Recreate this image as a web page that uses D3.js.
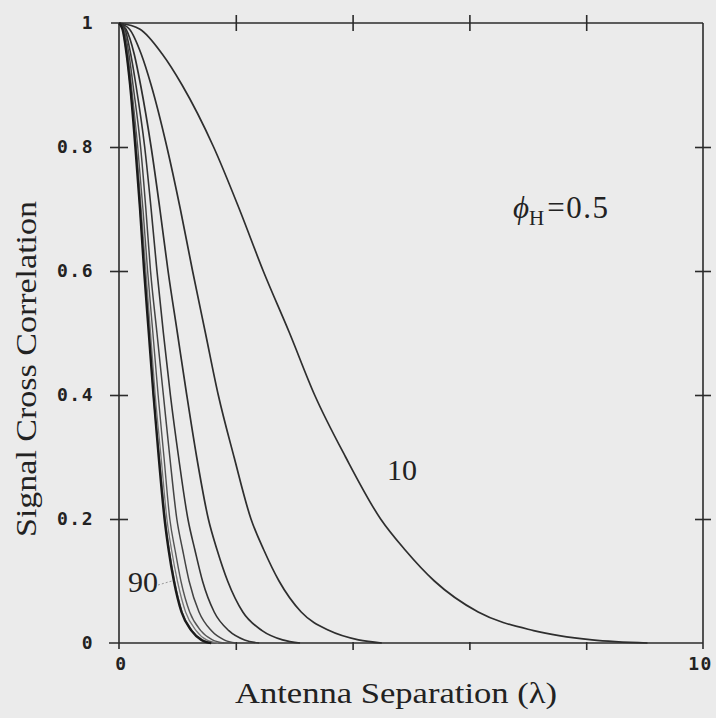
<!DOCTYPE html>
<html>
<head>
<meta charset="utf-8">
<script src="https://cdn.jsdelivr.net/npm/d3@7/dist/d3.min.js"></script>
<style>
  html, body { margin: 0; padding: 0; background: #ebebeb; }
  svg { display: block; }
</style>
</head>
<body>
<svg id="chart" width="716" height="718"></svg>
<script>
// Correlation levels shared by all series (y values)
const correlationLevels = [1, 0.99, 0.95, 0.9, 0.8, 0.7, 0.6, 0.5, 0.4, 0.3, 0.2, 0.15, 0.1, 0.05, 0.02, 0.005, 0];

// Antenna separation (in wavelengths) at which each curve reaches the level above
const sep10 = [0, 0.36, 0.74, 1.08, 1.62, 2.06, 2.47, 2.92, 3.35, 3.88, 4.48, 4.90, 5.40, 6.15, 7.10, 8.10, 9.05];
const sep20 = [0, 0.18, 0.38, 0.55, 0.82, 1.05, 1.26, 1.48, 1.70, 1.97, 2.26, 2.48, 2.74, 3.12, 3.60, 4.10, 4.50];
const sep30 = [0, 0.12, 0.26, 0.37, 0.55, 0.70, 0.84, 1.00, 1.16, 1.33, 1.53, 1.68, 1.86, 2.12, 2.45, 2.80, 3.10];
const sep40 = [0, 0.10, 0.20, 0.29, 0.44, 0.55, 0.65, 0.76, 0.88, 1.02, 1.18, 1.30, 1.43, 1.63, 1.88, 2.15, 2.40];
const sep50 = [0, 0.08, 0.17, 0.24, 0.37, 0.46, 0.54, 0.65, 0.76, 0.87, 0.99, 1.09, 1.20, 1.37, 1.58, 1.80, 2.00];
const sep60 = [0, 0.07, 0.15, 0.21, 0.32, 0.41, 0.49, 0.58, 0.67, 0.77, 0.87, 0.96, 1.06, 1.21, 1.40, 1.60, 1.80];
const sep70 = [0, 0.07, 0.14, 0.20, 0.30, 0.38, 0.46, 0.54, 0.62, 0.72, 0.82, 0.90, 1.00, 1.14, 1.32, 1.50, 1.70];
const sep80 = [0, 0.06, 0.13, 0.19, 0.29, 0.36, 0.44, 0.52, 0.59, 0.69, 0.79, 0.86, 0.95, 1.08, 1.25, 1.43, 1.60];
const sep90 = [0, 0.06, 0.13, 0.19, 0.28, 0.36, 0.43, 0.51, 0.59, 0.68, 0.78, 0.85, 0.94, 1.07, 1.24, 1.41, 1.58];

const seriesNames = ["10", "20", "30", "40", "50", "60", "70", "80", "90"];
const seriesSeps = [sep10, sep20, sep30, sep40, sep50, sep60, sep70, sep80, sep90];

const xTickValues = [0, 2, 4, 6, 8, 10];
const xTickLabels = ["0", "", "", "", "", "10"];
const yTickValues = [0, 0.2, 0.4, 0.6, 0.8, 1];
const yTickLabels = ["0", "0.2", "0.4", "0.6", "0.8", "1"];

const xTitle = "Antenna Separation (\u03BB)";
const yTitle = "Signal Cross Correlation";
const paramLabel = { sym: "\u03D5", sub: "H", rest: "=0.5" };

// ---- drawing ----
const svg = d3.select("#chart");
const m = { left: 119, right: 703, top: 23, bottom: 643 };
const x = d3.scaleLinear().domain([0, 10]).range([m.left, m.right]);
const y = d3.scaleLinear().domain([0, 1]).range([m.bottom, m.top]);

const ink = "#2b2b2b";

// frame
const frame = svg.append("g").attr("stroke", ink).attr("stroke-width", 1.6).attr("fill", "none");
frame.append("line").attr("x1", m.left - 8).attr("x2", m.right).attr("y1", m.top).attr("y2", m.top);
frame.append("line").attr("x1", m.left - 10).attr("x2", m.right).attr("y1", m.bottom).attr("y2", m.bottom);
frame.append("line").attr("x1", m.left).attr("x2", m.left).attr("y1", m.top).attr("y2", m.bottom + 6);
frame.append("line").attr("x1", m.right).attr("x2", m.right).attr("y1", m.top).attr("y2", m.bottom + 6);

// crossing ticks via axes (no domain)
const tickLen = 8;
function crossAxis(gen, transform) {
  const g = svg.append("g").attr("transform", transform).call(gen);
  g.select(".domain").remove();
  g.selectAll("line").attr("stroke", ink).attr("stroke-width", 1.6);
  g.selectAll("text").remove();
  return g;
}
const innerX = xTickValues.filter(v => v > 0 && v < 10);
const innerY = yTickValues.filter(v => v > 0 && v < 1);
crossAxis(d3.axisBottom(x).tickValues(innerX).tickSize(tickLen * 2).tickSizeOuter(0), `translate(0,${m.top - tickLen})`);
crossAxis(d3.axisBottom(x).tickValues(innerX).tickSize(tickLen).tickSizeOuter(0), `translate(0,${m.bottom - 1})`);
crossAxis(d3.axisRight(y).tickValues(innerY).tickSize(2*tickLen + 2).tickSizeOuter(0), `translate(${m.left - tickLen - 1},0)`);
crossAxis(d3.axisRight(y).tickValues(innerY).tickSize(2*tickLen).tickSizeOuter(0), `translate(${m.right - tickLen},0)`);

// tick labels
const monoFont = "'DejaVu Sans Mono', monospace";
const xAxisLab = svg.append("g")
  .attr("transform", `translate(0,${m.bottom})`)
  .call(d3.axisBottom(x).tickValues(xTickValues).tickFormat((d, i) => xTickLabels[i]).tickSize(0));
xAxisLab.select(".domain").remove();
xAxisLab.selectAll("text")
  .attr("font-family", monoFont).attr("font-weight", "bold").attr("font-size", 18)
  .attr("letter-spacing", 1.5)
  .attr("fill", "#222").attr("dy", "1.35em")
  .attr("dx", (d) => d === 0 ? 2 : -3);

const yAxisLab = svg.append("g")
  .attr("transform", `translate(${m.left - 25},0)`)
  .call(d3.axisLeft(y).tickValues(yTickValues).tickFormat((d, i) => yTickLabels[i]).tickSize(0).tickPadding(0));
yAxisLab.select(".domain").remove();
yAxisLab.selectAll("text")
  .attr("font-family", monoFont).attr("font-weight", "bold").attr("font-size", 18)
  .attr("letter-spacing", 1.5)
  .attr("fill", "#222");

// curves
const line = d3.line()
  .x(d => x(d[0]))
  .y(d => y(d[1]))
  .curve(d3.curveMonotoneX);

const styles = {
  "10": { c: "#2e2e2e", w: 1.7 }, "20": { c: "#2e2e2e", w: 1.7 }, "30": { c: "#2e2e2e", w: 1.7 },
  "40": { c: "#333", w: 1.6 }, "50": { c: "#444", w: 1.5 }, "60": { c: "#555", w: 1.4 },
  "70": { c: "#777", w: 1.3 }, "80": { c: "#666", w: 1.4 }, "90": { c: "#1a1a1a", w: 2.4 }
};
seriesNames.forEach((name, i) => {
  const pts = seriesSeps[i].map((s, k) => [s, correlationLevels[k]]);
  svg.append("path")
    .datum(pts)
    .attr("d", line)
    .attr("fill", "none")
    .attr("stroke", styles[name].c)
    .attr("stroke-width", styles[name].w)
    .attr("stroke-linejoin", "round");
});

// annotations
const serif = "'Liberation Serif', 'Times New Roman', serif";
svg.append("text").attr("x", 387).attr("y", 480)
  .attr("font-family", serif).attr("font-size", 30).attr("fill", "#222").text(seriesNames[0]);
svg.append("text").attr("x", 128).attr("y", 592)
  .attr("font-family", serif).attr("font-size", 30).attr("fill", "#222").text(seriesNames[8]);
svg.append("line")
  .attr("x1", 158).attr("y1", 585).attr("x2", x(sep90[12]) - 2).attr("y2", y(correlationLevels[12]))
  .attr("stroke", "#999").attr("stroke-width", 1).attr("stroke-dasharray", "2,2");

const p = svg.append("text").attr("x", 513).attr("y", 218)
  .attr("font-family", serif).attr("font-size", 31).attr("fill", "#222");
p.append("tspan").attr("font-style", "italic").text(paramLabel.sym);
p.append("tspan").attr("font-size", 21).attr("dy", 7).text(paramLabel.sub);
p.append("tspan").attr("dy", -7).attr("dx", 3).attr("letter-spacing", 1.5).text(paramLabel.rest);

// axis titles
svg.append("text").attr("x", 235).attr("y", 703)
  .attr("font-family", serif).attr("font-size", 30).attr("fill", "#222")
  .attr("textLength", 322).attr("lengthAdjust", "spacingAndGlyphs")
  .text(xTitle);
svg.append("text")
  .attr("transform", "translate(36,537) rotate(-90)")
  .attr("font-family", serif).attr("font-size", 30).attr("fill", "#222")
  .attr("textLength", 336).attr("lengthAdjust", "spacingAndGlyphs")
  .text(yTitle);
</script>
</body>
</html>
